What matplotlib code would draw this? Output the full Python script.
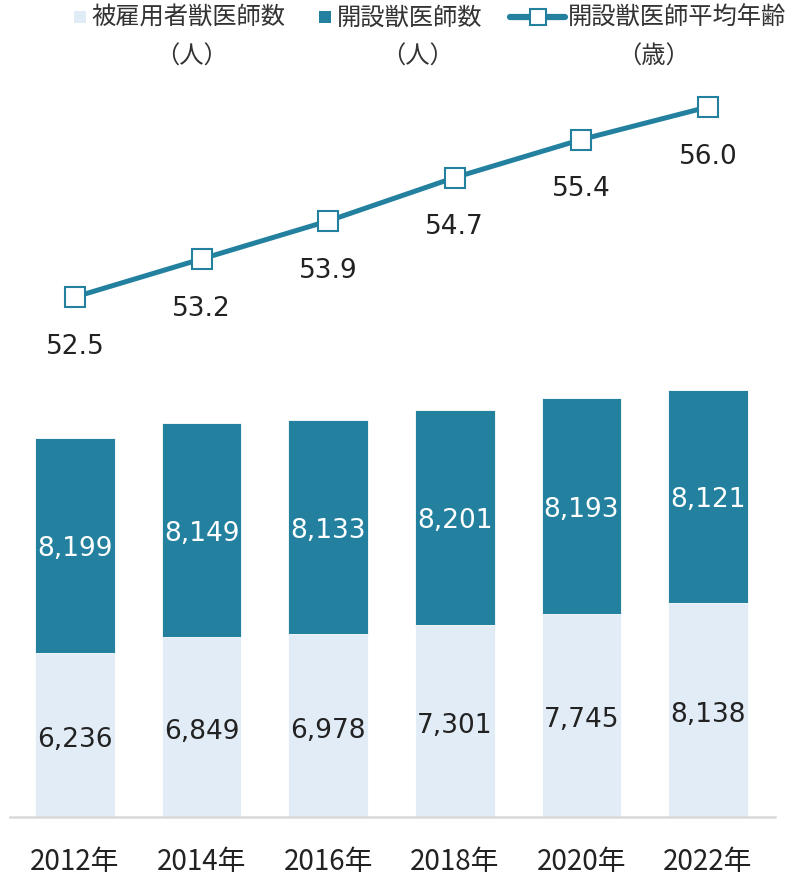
import matplotlib.pyplot as plt
from matplotlib.lines import Line2D
from matplotlib.patches import Rectangle

years = ["2012年", "2014年", "2016年", "2018年", "2020年", "2022年"]
employed = [6236, 6849, 6978, 7301, 7745, 8138]
owners = [8199, 8149, 8133, 8201, 8193, 8121]
owner_age = [52.5, 53.2, 53.9, 54.7, 55.4, 56.0]

LIGHT = "#E1ECF6"
DARK = "#23819F"
TEXT = "#222222"
LEG = "#333333"

plt.rcParams["font.family"] = ["Noto Sans CJK JP", "DejaVu Sans"]

W, H = 810, 879
fig = plt.figure(figsize=(W / 100, H / 100), dpi=100)
# axes spans pixel x 10..775, y 80..818 (from top)
ax = fig.add_axes([10 / W, (H - 818) / H, 765 / W, 738 / H])
x = list(range(len(years)))

ax.bar(x, employed, width=0.63, color=LIGHT, edgecolor="white", linewidth=0.6)
ax.bar(x, owners, width=0.63, bottom=employed, color=DARK, edgecolor="white", linewidth=0.6)
ax.set_xlim(-0.513, 5.529)
ax.set_ylim(0, 28100)

for i in x:
    ax.annotate(f"{employed[i]:,}", (i, employed[i] / 2), xytext=(0, -3),
                textcoords="offset points", ha="center", va="center",
                fontsize=19, color=TEXT, family="DejaVu Sans")
    ax.annotate(f"{owners[i]:,}", (i, employed[i] + owners[i] / 2), xytext=(0, -2),
                textcoords="offset points", ha="center", va="center",
                fontsize=19, color="white", family="DejaVu Sans")

ax.set_xticks(x)
ax.set_xticklabels(years, fontsize=20, color=TEXT)
ax.tick_params(axis="x", length=0, pad=21)
ax.set_yticks([])
for s in ["top", "right", "left"]:
    ax.spines[s].set_visible(False)
ax.spines["bottom"].set_color("#D9D9D9")
ax.spines["bottom"].set_linewidth(1.8)

ax2 = ax.twinx()
ax2.plot(x, owner_age, color=DARK, linewidth=3.6, marker="s", markersize=14,
         markerfacecolor="white", markeredgecolor=DARK, markeredgewidth=1.5)
ax2.set_ylim(42.92, 56.515)
ax2.set_xlim(-0.513, 5.529)
ax2.set_yticks([])
for s in ax2.spines.values():
    s.set_visible(False)
for i in x:
    ax2.annotate(f"{owner_age[i]:.1f}", (i, owner_age[i]), xytext=(0, -35),
                 textcoords="offset points", ha="center", va="center",
                 fontsize=19, color=TEXT, family="DejaVu Sans")

# legend, laid out by hand so each key keeps its own size
def fx(px):
    return px / W


def fy(py):
    return 1 - py / H


ly = 18
fig.add_artist(Rectangle((fx(74), fy(ly + 6)), 12 / W, 12 / H, transform=fig.transFigure,
                         facecolor=LIGHT, edgecolor="none"))
fig.add_artist(Rectangle((fx(319), fy(ly + 6)), 12 / W, 12 / H, transform=fig.transFigure,
                         facecolor=DARK, edgecolor="none"))
fig.add_artist(Line2D([fx(510), fx(565)], [fy(ly), fy(ly)], transform=fig.transFigure,
                      color=DARK, linewidth=4.5, solid_capstyle="round"))
fig.add_artist(Line2D([fx(537.5)], [fy(ly)], transform=fig.transFigure, marker="s",
                      markersize=12, markerfacecolor="white", markeredgecolor=DARK,
                      markeredgewidth=1.5))
labels = ["被雇用者獣医師数", "開設獣医師数", "開設獣医師平均年齢"]
for xp, t in zip([91, 337, 568], labels):
    fig.text(fx(xp), fy(ly), t, ha="left", va="center", fontsize=17.5, color=LEG)
for xp, t in [(192, "（人）"), (417, "（人）"), (653, "（歳）")]:
    fig.text(fx(xp), fy(57), t, ha="center", va="center", fontsize=17.5, color=LEG)

fig.savefig("out.png", dpi=100)
